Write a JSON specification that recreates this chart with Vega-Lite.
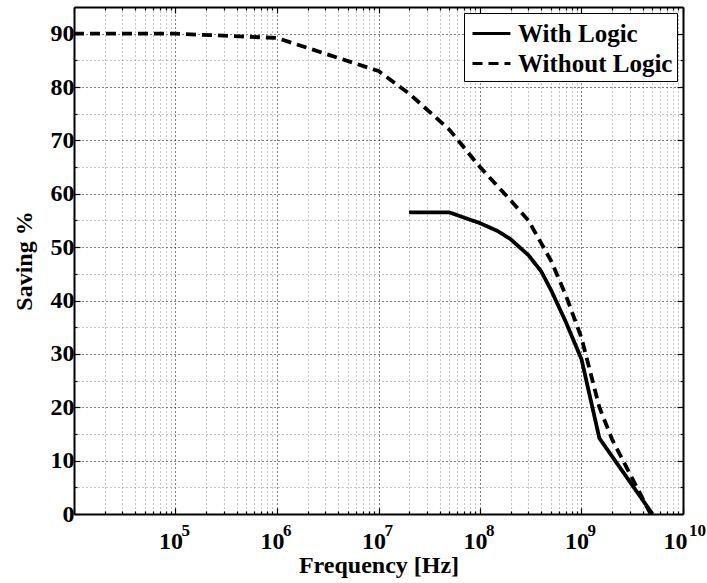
{
  "$schema": "https://vega.github.io/schema/vega-lite/v6.json",
  "width": 609,
  "height": 507,
  "autosize": "none",
  "padding": {"left": 74, "top": 7, "right": 24, "bottom": 69},
  "background": "white",
  "config": {
    "view": {"stroke": null},
    "font": "Liberation Serif"
  },
  "data": {
    "values": [
      {"f": 10000, "s": 90, "series": "Without Logic"},
      {"f": 100000, "s": 90, "series": "Without Logic"},
      {"f": 1000000, "s": 89.2, "series": "Without Logic"},
      {"f": 10000000, "s": 83, "series": "Without Logic"},
      {"f": 20000000, "s": 78.8, "series": "Without Logic"},
      {"f": 50000000, "s": 72, "series": "Without Logic"},
      {"f": 100000000, "s": 65, "series": "Without Logic"},
      {"f": 200000000, "s": 58.8, "series": "Without Logic"},
      {"f": 300000000, "s": 55, "series": "Without Logic"},
      {"f": 500000000, "s": 47.5, "series": "Without Logic"},
      {"f": 700000000, "s": 41, "series": "Without Logic"},
      {"f": 1000000000, "s": 33, "series": "Without Logic"},
      {"f": 1500000000, "s": 20, "series": "Without Logic"},
      {"f": 2000000000, "s": 14, "series": "Without Logic"},
      {"f": 3000000000, "s": 7.5, "series": "Without Logic"},
      {"f": 4800000000, "s": 0, "series": "Without Logic"},
      {"f": 20000000, "s": 56.5, "series": "With Logic"},
      {"f": 50000000, "s": 56.5, "series": "With Logic"},
      {"f": 100000000, "s": 54.5, "series": "With Logic"},
      {"f": 150000000, "s": 53, "series": "With Logic"},
      {"f": 200000000, "s": 51.5, "series": "With Logic"},
      {"f": 300000000, "s": 48.5, "series": "With Logic"},
      {"f": 400000000, "s": 45.5, "series": "With Logic"},
      {"f": 500000000, "s": 42, "series": "With Logic"},
      {"f": 700000000, "s": 36, "series": "With Logic"},
      {"f": 1000000000, "s": 29, "series": "With Logic"},
      {"f": 1500000000, "s": 14.2, "series": "With Logic"},
      {"f": 5000000000, "s": 0, "series": "With Logic"}
    ]
  },
  "layer": [
    {
      "mark": {"type": "line", "strokeWidth": 3.8, "color": "black", "clip": true},
      "encoding": {
        "x": {
          "field": "f", "type": "quantitative",
          "scale": {"type": "log", "domain": [10000, 10000000000], "nice": false},
          "axis": {
            "orient": "bottom",
            "title": "Frequency [Hz]",
            "titleFont": "Liberation Serif", "titleFontSize": 24, "titleFontWeight": "bold", "titleColor": "black", "titlePadding": -3,
            "values": [10000,20000,30000,40000,50000,60000,70000,80000,90000,
                       100000,200000,300000,400000,500000,600000,700000,800000,900000,
                       1000000,2000000,3000000,4000000,5000000,6000000,7000000,8000000,9000000,
                       10000000,20000000,30000000,40000000,50000000,60000000,70000000,80000000,90000000,
                       100000000,200000000,300000000,400000000,500000000,600000000,700000000,800000000,900000000,
                       1000000000,2000000000,3000000000,4000000000,5000000000,6000000000,7000000000,8000000000,9000000000,
                       10000000000],
            "labelExpr": "datum.value >= 100000 && abs(log(datum.value)/LN10 - round(log(datum.value)/LN10)) < 0.000001 ? '10' : ''",
            "labelFont": "Liberation Serif", "labelFontSize": 24, "labelFontWeight": "bold", "labelColor": "black",
            "labelPadding": 21, "labelFlush": false, "labelOverlap": false,
            "labelOffset": {"condition": {"test": "datum.value > 5000000000", "value": -8}, "value": -5},
            "domainColor": "black", "domainWidth": 2,
            "tickColor": "black", "tickWidth": 1.2,
            "tickSize": {"condition": {"test": "abs(log(datum.value)/LN10 - round(log(datum.value)/LN10)) < 0.000001", "value": -6}, "value": -3},
            "grid": true,
            "gridColor": {"condition": {"test": "abs(log(datum.value)/LN10 - round(log(datum.value)/LN10)) < 0.000001", "value": "#000000"}, "value": "#8a8a8a"},
            "gridDash": [1, 3],
            "gridWidth": 1
          }
        },
        "y": {
          "field": "s", "type": "quantitative",
          "scale": {"domain": [0, 95], "nice": false},
          "axis": {
            "orient": "left",
            "title": "Saving %",
            "titleFont": "Liberation Serif", "titleFontSize": 24, "titleFontWeight": "bold", "titleColor": "black", "titlePadding": 14,
            "values": [0,5,10,15,20,25,30,35,40,45,50,55,60,65,70,75,80,85,90],
            "labelExpr": "datum.value % 10 === 0 ? datum.label : ''",
            "labelFont": "Liberation Serif", "labelFontSize": 24, "labelFontWeight": "bold", "labelColor": "black",
            "labelPadding": 6, "labelFlush": false, "labelOverlap": false,
            "domainColor": "black", "domainWidth": 2,
            "tickColor": "black", "tickWidth": 1.2,
            "tickSize": {"condition": {"test": "datum.value % 10 === 0", "value": -6}, "value": -3},
            "grid": true,
            "gridColor": {"condition": {"test": "datum.value % 10 === 0", "value": "#000000"}, "value": "#8a8a8a"},
            "gridDash": [1, 3],
            "gridWidth": 1
          }
        },
        "strokeDash": {
          "field": "series", "type": "nominal",
          "scale": {"domain": ["With Logic", "Without Logic"], "range": [[1, 0], [10, 6]]},
          "legend": {
            "title": null,
            "orient": "top-right",
            "offset": 6,
            "strokeColor": "black",
            "fillColor": "white",
            "padding": 4,
            "symbolType": "M-0.8,0H1.73",
            "symbolStrokeWidth": 3,
            "symbolSize": 900,
            "symbolStrokeColor": "black",
            "labelFont": "Liberation Serif",
            "labelFontSize": 25,
            "labelFontWeight": "bold",
            "labelColor": "black",
            "labelOffset": 17,
            "labelLimit": 400,
            "rowPadding": 0
          }
        }
      }
    },
    {
      "mark": {"type": "line", "strokeOpacity": 0},
      "encoding": {
        "x": {
          "field": "f", "type": "quantitative",
          "axis": {
            "orient": "top", "title": null, "labels": false, "grid": false,
            "values": [10000,20000,30000,40000,50000,60000,70000,80000,90000,
                       100000,200000,300000,400000,500000,600000,700000,800000,900000,
                       1000000,2000000,3000000,4000000,5000000,6000000,7000000,8000000,9000000,
                       10000000,20000000,30000000,40000000,50000000,60000000,70000000,80000000,90000000,
                       100000000,200000000,300000000,400000000,500000000,600000000,700000000,800000000,900000000,
                       1000000000,2000000000,3000000000,4000000000,5000000000,6000000000,7000000000,8000000000,9000000000,
                       10000000000],
            "domainColor": "black", "domainWidth": 2,
            "tickColor": "black", "tickWidth": 1.2,
            "tickSize": {"condition": {"test": "abs(log(datum.value)/LN10 - round(log(datum.value)/LN10)) < 0.000001", "value": -6}, "value": -3}
          }
        },
        "y": {
          "field": "s", "type": "quantitative",
          "axis": {
            "orient": "right", "title": null, "labels": false, "grid": false,
            "values": [0,5,10,15,20,25,30,35,40,45,50,55,60,65,70,75,80,85,90],
            "domainColor": "black", "domainWidth": 2,
            "tickColor": "black", "tickWidth": 1.2,
            "tickSize": {"condition": {"test": "datum.value % 10 === 0", "value": -6}, "value": -3}
          }
        }
      }
    },
    {
      "data": {
        "values": [
          {"f": 100000, "e": "5"},
          {"f": 1000000, "e": "6"},
          {"f": 10000000, "e": "7"},
          {"f": 100000000, "e": "8"},
          {"f": 1000000000, "e": "9"},
          {"f": 10000000000, "e": "10"}
        ]
      },
      "mark": {"type": "text", "align": "left", "baseline": "alphabetic", "dx": 6, "dy": 22, "font": "Liberation Serif", "fontSize": 17, "fontWeight": "bold", "color": "black", "clip": false},
      "encoding": {
        "x": {"field": "f", "type": "quantitative", "axis": null},
        "y": {"datum": 0, "type": "quantitative", "axis": null},
        "text": {"field": "e"}
      }
    }
  ],
  "resolve": {"axis": {"x": "independent", "y": "independent"}}
}
